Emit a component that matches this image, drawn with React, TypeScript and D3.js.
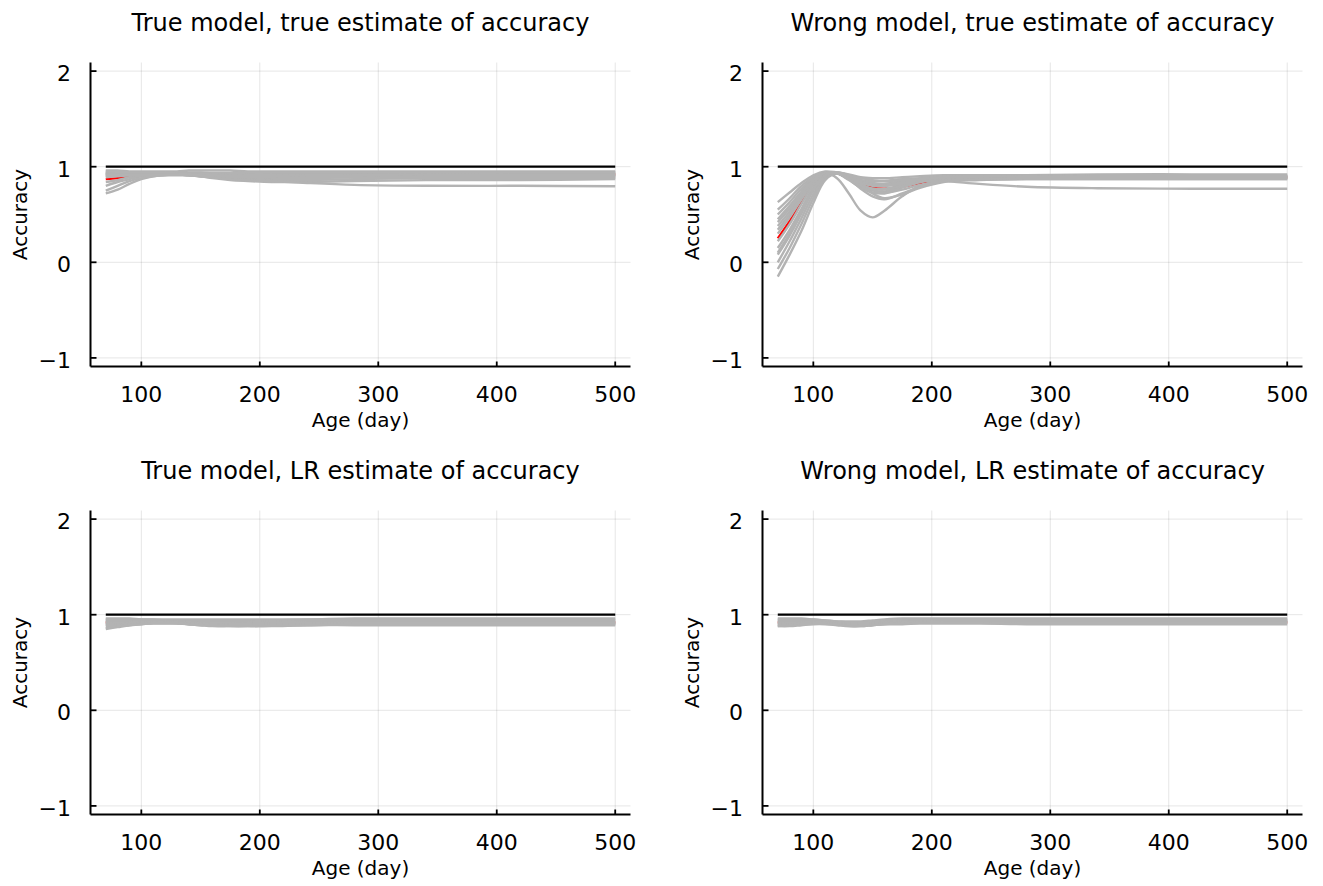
import React from "react";
import * as d3 from "d3";

// ---------------- data ----------------
const AGES = [70, 80, 90, 100, 110, 120, 130, 140, 150, 160, 175, 190, 210, 240, 280, 340, 420, 500];
const REF_AGES = [70, 500];
const REF_ACC = [1, 1];
const X_TICKS = [100, 200, 300, 400, 500];
const Y_TICKS = [-1, 0, 1, 2];
const Y_TICK_LABELS = ["\u22121", "0", "1", "2"];
const TITLES = [
  "True model, true estimate of accuracy",
  "Wrong model, true estimate of accuracy",
  "True model, LR estimate of accuracy",
  "Wrong model, LR estimate of accuracy",
];
const X_LABEL = "Age (day)";
const Y_LABEL = "Accuracy";

// True model, true estimate
const TL_RED = [0.87, 0.88, 0.9, 0.91, 0.92, 0.92, 0.92, 0.92, 0.92, 0.92, 0.92, 0.92, 0.92, 0.92, 0.92, 0.92, 0.92, 0.92];
const TL_GRAY = [
  [0.96, 0.96, 0.95, 0.95, 0.95, 0.95, 0.95, 0.96, 0.96, 0.96, 0.96, 0.95, 0.95, 0.95, 0.95, 0.95, 0.95, 0.95],
  [0.94, 0.94, 0.94, 0.94, 0.94, 0.94, 0.94, 0.94, 0.94, 0.93, 0.93, 0.93, 0.93, 0.93, 0.93, 0.94, 0.94, 0.94],
  [0.93, 0.93, 0.93, 0.93, 0.94, 0.94, 0.94, 0.93, 0.92, 0.92, 0.92, 0.92, 0.92, 0.93, 0.93, 0.93, 0.93, 0.93],
  [0.92, 0.92, 0.92, 0.93, 0.93, 0.93, 0.93, 0.93, 0.93, 0.93, 0.93, 0.92, 0.92, 0.92, 0.92, 0.92, 0.92, 0.92],
  [0.9, 0.91, 0.92, 0.92, 0.93, 0.93, 0.93, 0.92, 0.91, 0.9, 0.89, 0.89, 0.89, 0.9, 0.9, 0.91, 0.91, 0.91],
  [0.91, 0.91, 0.91, 0.92, 0.92, 0.92, 0.92, 0.92, 0.92, 0.91, 0.91, 0.91, 0.91, 0.91, 0.91, 0.91, 0.91, 0.91],
  [0.84, 0.86, 0.89, 0.91, 0.92, 0.93, 0.93, 0.92, 0.91, 0.9, 0.89, 0.88, 0.88, 0.88, 0.89, 0.89, 0.9, 0.9],
  [0.8, 0.84, 0.87, 0.9, 0.91, 0.92, 0.92, 0.91, 0.9, 0.88, 0.86, 0.85, 0.84, 0.84, 0.85, 0.86, 0.86, 0.87],
  [0.72, 0.76, 0.82, 0.87, 0.9, 0.91, 0.92, 0.91, 0.9, 0.89, 0.88, 0.87, 0.86, 0.86, 0.87, 0.88, 0.88, 0.88],
  [0.75, 0.8, 0.85, 0.88, 0.9, 0.91, 0.91, 0.91, 0.9, 0.89, 0.87, 0.86, 0.85, 0.83, 0.81, 0.8, 0.8, 0.795],
  [0.93, 0.93, 0.93, 0.93, 0.93, 0.92, 0.92, 0.91, 0.9, 0.9, 0.9, 0.9, 0.9, 0.9, 0.9, 0.9, 0.9, 0.9],
  [0.95, 0.95, 0.94, 0.94, 0.94, 0.94, 0.93, 0.93, 0.93, 0.93, 0.93, 0.94, 0.94, 0.94, 0.94, 0.94, 0.94, 0.94],
  [0.89, 0.9, 0.91, 0.92, 0.92, 0.92, 0.92, 0.92, 0.92, 0.92, 0.91, 0.9, 0.89, 0.89, 0.89, 0.89, 0.89, 0.89],
  [0.92, 0.92, 0.92, 0.92, 0.92, 0.92, 0.92, 0.92, 0.91, 0.91, 0.9, 0.9, 0.9, 0.91, 0.91, 0.92, 0.92, 0.92],
];

// Wrong model, true estimate
const TR_RED = [0.25, 0.43, 0.63, 0.82, 0.92, 0.93, 0.88, 0.82, 0.78, 0.77, 0.79, 0.83, 0.87, 0.88, 0.89, 0.89, 0.89, 0.89];
const TR_GRAY = [
  [0.63, 0.73, 0.83, 0.91, 0.95, 0.94, 0.92, 0.89, 0.88, 0.88, 0.89, 0.9, 0.91, 0.91, 0.91, 0.92, 0.92, 0.92],
  [0.55, 0.67, 0.8, 0.89, 0.94, 0.93, 0.88, 0.84, 0.82, 0.82, 0.85, 0.87, 0.89, 0.89, 0.9, 0.9, 0.9, 0.9],
  [0.45, 0.59, 0.74, 0.87, 0.93, 0.93, 0.87, 0.8, 0.77, 0.77, 0.81, 0.85, 0.88, 0.88, 0.89, 0.89, 0.89, 0.89],
  [0.38, 0.53, 0.7, 0.85, 0.93, 0.93, 0.86, 0.78, 0.73, 0.72, 0.78, 0.84, 0.87, 0.88, 0.88, 0.88, 0.88, 0.88],
  [0.3, 0.47, 0.66, 0.83, 0.93, 0.88, 0.72, 0.54, 0.47, 0.54, 0.69, 0.8, 0.85, 0.87, 0.88, 0.88, 0.88, 0.88],
  [0.22, 0.4, 0.61, 0.81, 0.92, 0.93, 0.87, 0.79, 0.75, 0.74, 0.79, 0.84, 0.87, 0.88, 0.89, 0.89, 0.89, 0.89],
  [0.15, 0.34, 0.56, 0.78, 0.91, 0.93, 0.88, 0.81, 0.77, 0.76, 0.8, 0.85, 0.88, 0.89, 0.89, 0.9, 0.9, 0.9],
  [0.08, 0.28, 0.51, 0.75, 0.9, 0.93, 0.89, 0.82, 0.76, 0.73, 0.76, 0.81, 0.85, 0.87, 0.87, 0.87, 0.87, 0.87],
  [0.0, 0.22, 0.46, 0.71, 0.89, 0.94, 0.91, 0.86, 0.83, 0.82, 0.84, 0.86, 0.88, 0.89, 0.89, 0.89, 0.89, 0.89],
  [-0.07, 0.15, 0.4, 0.67, 0.88, 0.93, 0.88, 0.8, 0.72, 0.67, 0.71, 0.78, 0.84, 0.86, 0.87, 0.87, 0.87, 0.87],
  [-0.15, 0.08, 0.33, 0.62, 0.86, 0.93, 0.9, 0.85, 0.81, 0.8, 0.82, 0.85, 0.85, 0.82, 0.79, 0.775, 0.77, 0.77],
  [0.5, 0.63, 0.77, 0.88, 0.93, 0.94, 0.9, 0.86, 0.85, 0.85, 0.87, 0.88, 0.9, 0.9, 0.9, 0.91, 0.91, 0.91],
  [0.34, 0.5, 0.68, 0.84, 0.92, 0.93, 0.89, 0.83, 0.8, 0.8, 0.83, 0.86, 0.88, 0.89, 0.9, 0.9, 0.9, 0.9],
  [0.42, 0.56, 0.72, 0.86, 0.93, 0.94, 0.91, 0.88, 0.86, 0.85, 0.86, 0.87, 0.89, 0.89, 0.89, 0.9, 0.9, 0.9],
  [0.1, 0.3, 0.53, 0.76, 0.91, 0.93, 0.87, 0.77, 0.69, 0.66, 0.72, 0.79, 0.85, 0.87, 0.88, 0.88, 0.88, 0.88],
];

// True model, LR estimate
const BL_RED = [0.92, 0.92, 0.92, 0.92, 0.93, 0.93, 0.93, 0.92, 0.92, 0.92, 0.92, 0.92, 0.92, 0.92, 0.92, 0.92, 0.92, 0.92];
const BL_GRAY = [
  [0.96, 0.96, 0.96, 0.95, 0.95, 0.95, 0.95, 0.95, 0.95, 0.95, 0.95, 0.95, 0.95, 0.95, 0.96, 0.96, 0.96, 0.96],
  [0.95, 0.95, 0.95, 0.95, 0.95, 0.94, 0.94, 0.94, 0.94, 0.94, 0.94, 0.94, 0.94, 0.95, 0.95, 0.95, 0.95, 0.95],
  [0.94, 0.94, 0.94, 0.94, 0.94, 0.94, 0.93, 0.93, 0.93, 0.93, 0.93, 0.93, 0.94, 0.94, 0.94, 0.94, 0.94, 0.94],
  [0.93, 0.93, 0.93, 0.93, 0.93, 0.93, 0.93, 0.92, 0.92, 0.92, 0.92, 0.92, 0.93, 0.93, 0.93, 0.93, 0.93, 0.93],
  [0.92, 0.92, 0.92, 0.93, 0.93, 0.93, 0.92, 0.92, 0.91, 0.91, 0.91, 0.91, 0.92, 0.92, 0.92, 0.92, 0.92, 0.92],
  [0.91, 0.91, 0.92, 0.92, 0.92, 0.92, 0.92, 0.91, 0.91, 0.9, 0.9, 0.9, 0.91, 0.91, 0.92, 0.92, 0.92, 0.92],
  [0.9, 0.91, 0.91, 0.92, 0.92, 0.92, 0.92, 0.91, 0.91, 0.9, 0.9, 0.9, 0.91, 0.91, 0.91, 0.91, 0.91, 0.91],
  [0.89, 0.9, 0.91, 0.91, 0.92, 0.92, 0.91, 0.91, 0.9, 0.9, 0.89, 0.89, 0.9, 0.9, 0.91, 0.91, 0.91, 0.91],
  [0.88, 0.89, 0.9, 0.91, 0.91, 0.91, 0.91, 0.9, 0.9, 0.89, 0.89, 0.89, 0.89, 0.9, 0.9, 0.9, 0.9, 0.9],
  [0.86, 0.88, 0.89, 0.9, 0.91, 0.91, 0.91, 0.9, 0.89, 0.89, 0.88, 0.88, 0.89, 0.89, 0.9, 0.9, 0.9, 0.9],
  [0.85, 0.87, 0.89, 0.9, 0.91, 0.91, 0.91, 0.9, 0.89, 0.88, 0.88, 0.88, 0.88, 0.89, 0.89, 0.89, 0.89, 0.89],
];

// Wrong model, LR estimate
const BR_RED = [0.92, 0.92, 0.92, 0.92, 0.92, 0.91, 0.9, 0.9, 0.91, 0.91, 0.92, 0.92, 0.92, 0.92, 0.92, 0.92, 0.92, 0.92];
const BR_GRAY = [
  [0.96, 0.96, 0.96, 0.95, 0.94, 0.93, 0.93, 0.93, 0.94, 0.95, 0.96, 0.96, 0.96, 0.96, 0.96, 0.96, 0.96, 0.96],
  [0.95, 0.95, 0.95, 0.95, 0.94, 0.93, 0.92, 0.92, 0.93, 0.94, 0.95, 0.95, 0.95, 0.95, 0.95, 0.95, 0.95, 0.95],
  [0.94, 0.94, 0.94, 0.94, 0.93, 0.92, 0.92, 0.92, 0.92, 0.93, 0.94, 0.94, 0.94, 0.94, 0.94, 0.94, 0.94, 0.94],
  [0.93, 0.93, 0.93, 0.93, 0.93, 0.92, 0.91, 0.91, 0.92, 0.93, 0.93, 0.94, 0.94, 0.94, 0.94, 0.94, 0.94, 0.94],
  [0.92, 0.92, 0.92, 0.92, 0.92, 0.91, 0.9, 0.9, 0.91, 0.92, 0.93, 0.93, 0.93, 0.93, 0.93, 0.93, 0.93, 0.93],
  [0.91, 0.91, 0.92, 0.92, 0.92, 0.91, 0.9, 0.9, 0.91, 0.92, 0.92, 0.93, 0.93, 0.93, 0.93, 0.93, 0.93, 0.93],
  [0.9, 0.91, 0.91, 0.92, 0.92, 0.91, 0.89, 0.89, 0.9, 0.91, 0.92, 0.92, 0.92, 0.92, 0.92, 0.92, 0.92, 0.92],
  [0.89, 0.9, 0.91, 0.91, 0.91, 0.9, 0.89, 0.89, 0.9, 0.91, 0.91, 0.92, 0.92, 0.92, 0.92, 0.92, 0.92, 0.92],
  [0.88, 0.89, 0.9, 0.91, 0.91, 0.9, 0.88, 0.88, 0.89, 0.9, 0.91, 0.91, 0.91, 0.91, 0.91, 0.91, 0.91, 0.91],
  [0.88, 0.88, 0.89, 0.9, 0.9, 0.89, 0.88, 0.88, 0.89, 0.9, 0.9, 0.91, 0.91, 0.91, 0.9, 0.9, 0.9, 0.9],
];

const PANEL_GRAY = [TL_GRAY, TR_GRAY, BL_GRAY, BR_GRAY];
const PANEL_RED = [TL_RED, TR_RED, BL_RED, BR_RED];

// ---------------- layout ----------------
const W = 1323;
const H = 886;
const PLOT_W = 540;
const PLOT_H = 304;
const COL_LEFT = [90.5, 762.5];
const ROW_TOP = [62.5, 510.5];
const FONT = "'DejaVu Sans', Verdana, sans-serif";
const GRAY = "#b3b3b3";

type PanelProps = { idx: number };

function Panel({ idx }: PanelProps) {
  const col = idx % 2;
  const row = Math.floor(idx / 2);
  const left = COL_LEFT[col];
  const top = ROW_TOP[row];
  const x = d3.scaleLinear().domain([57.1, 512.9]).range([0, PLOT_W]);
  const y = d3.scaleLinear().domain([-1.09, 2.09]).range([PLOT_H, 0]);
  const line = d3
    .line<number>()
    .x((_, i) => x(AGES[i]))
    .y((v) => y(v))
    .curve(d3.curveCatmullRom.alpha(0.5));
  const refLine = d3
    .line<number>()
    .x((_, i) => x(REF_AGES[i]))
    .y((v) => y(v));

  return (
    <g transform={`translate(${left},${top})`}>
      {/* grid */}
      {X_TICKS.map((t) => (
        <line key={"gx" + t} x1={x(t)} x2={x(t)} y1={0} y2={PLOT_H} stroke="#000" strokeOpacity={0.1} strokeWidth={1} />
      ))}
      {Y_TICKS.map((t) => (
        <line key={"gy" + t} x1={0} x2={PLOT_W} y1={y(t)} y2={y(t)} stroke="#000" strokeOpacity={0.1} strokeWidth={1} />
      ))}
      {/* series */}
      <path d={line(PANEL_RED[idx]) || ""} fill="none" stroke="#ff0000" strokeWidth={2.4} />
      {PANEL_GRAY[idx].map((s, i) => (
        <path key={"s" + i} d={line(s) || ""} fill="none" stroke={GRAY} strokeWidth={2.4} />
      ))}
      <path d={refLine(REF_ACC) || ""} fill="none" stroke="#000" strokeWidth={2.2} />
      {/* spines */}
      <line x1={0} x2={0} y1={0} y2={PLOT_H} stroke="#000" strokeWidth={2} />
      <line x1={0} x2={PLOT_W} y1={PLOT_H} y2={PLOT_H} stroke="#000" strokeWidth={2} />
      {/* ticks */}
      {X_TICKS.map((t) => (
        <g key={"tx" + t}>
          <line x1={x(t)} x2={x(t)} y1={PLOT_H} y2={PLOT_H - 5} stroke="#000" strokeWidth={1.8} />
          <text x={x(t)} y={PLOT_H + 35} textAnchor="middle" fontFamily={FONT} fontSize={22} fill="#000">
            {String(t)}
          </text>
        </g>
      ))}
      {Y_TICKS.map((t, i) => (
        <g key={"ty" + t}>
          <line x1={0} x2={6} y1={y(t)} y2={y(t)} stroke="#000" strokeWidth={1.8} />
          <text x={-19.5} y={y(t) + 10} textAnchor="end" fontFamily={FONT} fontSize={22} fill="#000">
            {Y_TICK_LABELS[i]}
          </text>
        </g>
      ))}
      {/* labels */}
      <text x={PLOT_W / 2} y={-31.5} textAnchor="middle" fontFamily={FONT} fontSize={24} fill="#000">
        {TITLES[idx]}
      </text>
      <text x={PLOT_W / 2} y={PLOT_H + 60.5} textAnchor="middle" fontFamily={FONT} fontSize={20} fill="#000">
        {X_LABEL}
      </text>
      <text
        transform={`translate(${-63.5},${PLOT_H / 2}) rotate(-90)`}
        textAnchor="middle"
        fontFamily={FONT}
        fontSize={20}
        fill="#000"
      >
        {Y_LABEL}
      </text>
    </g>
  );
}

export default function App() {
  return (
    <svg
      width={W}
      height={H}
      viewBox={`0 0 ${W} ${H}`}
      style={{ position: "absolute", left: 0, top: 0, display: "block", background: "#fff" }}
    >
      <rect x={0} y={0} width={W} height={H} fill="#fff" />
      {[0, 1, 2, 3].map((i) => (
        <Panel key={i} idx={i} />
      ))}
    </svg>
  );
}
